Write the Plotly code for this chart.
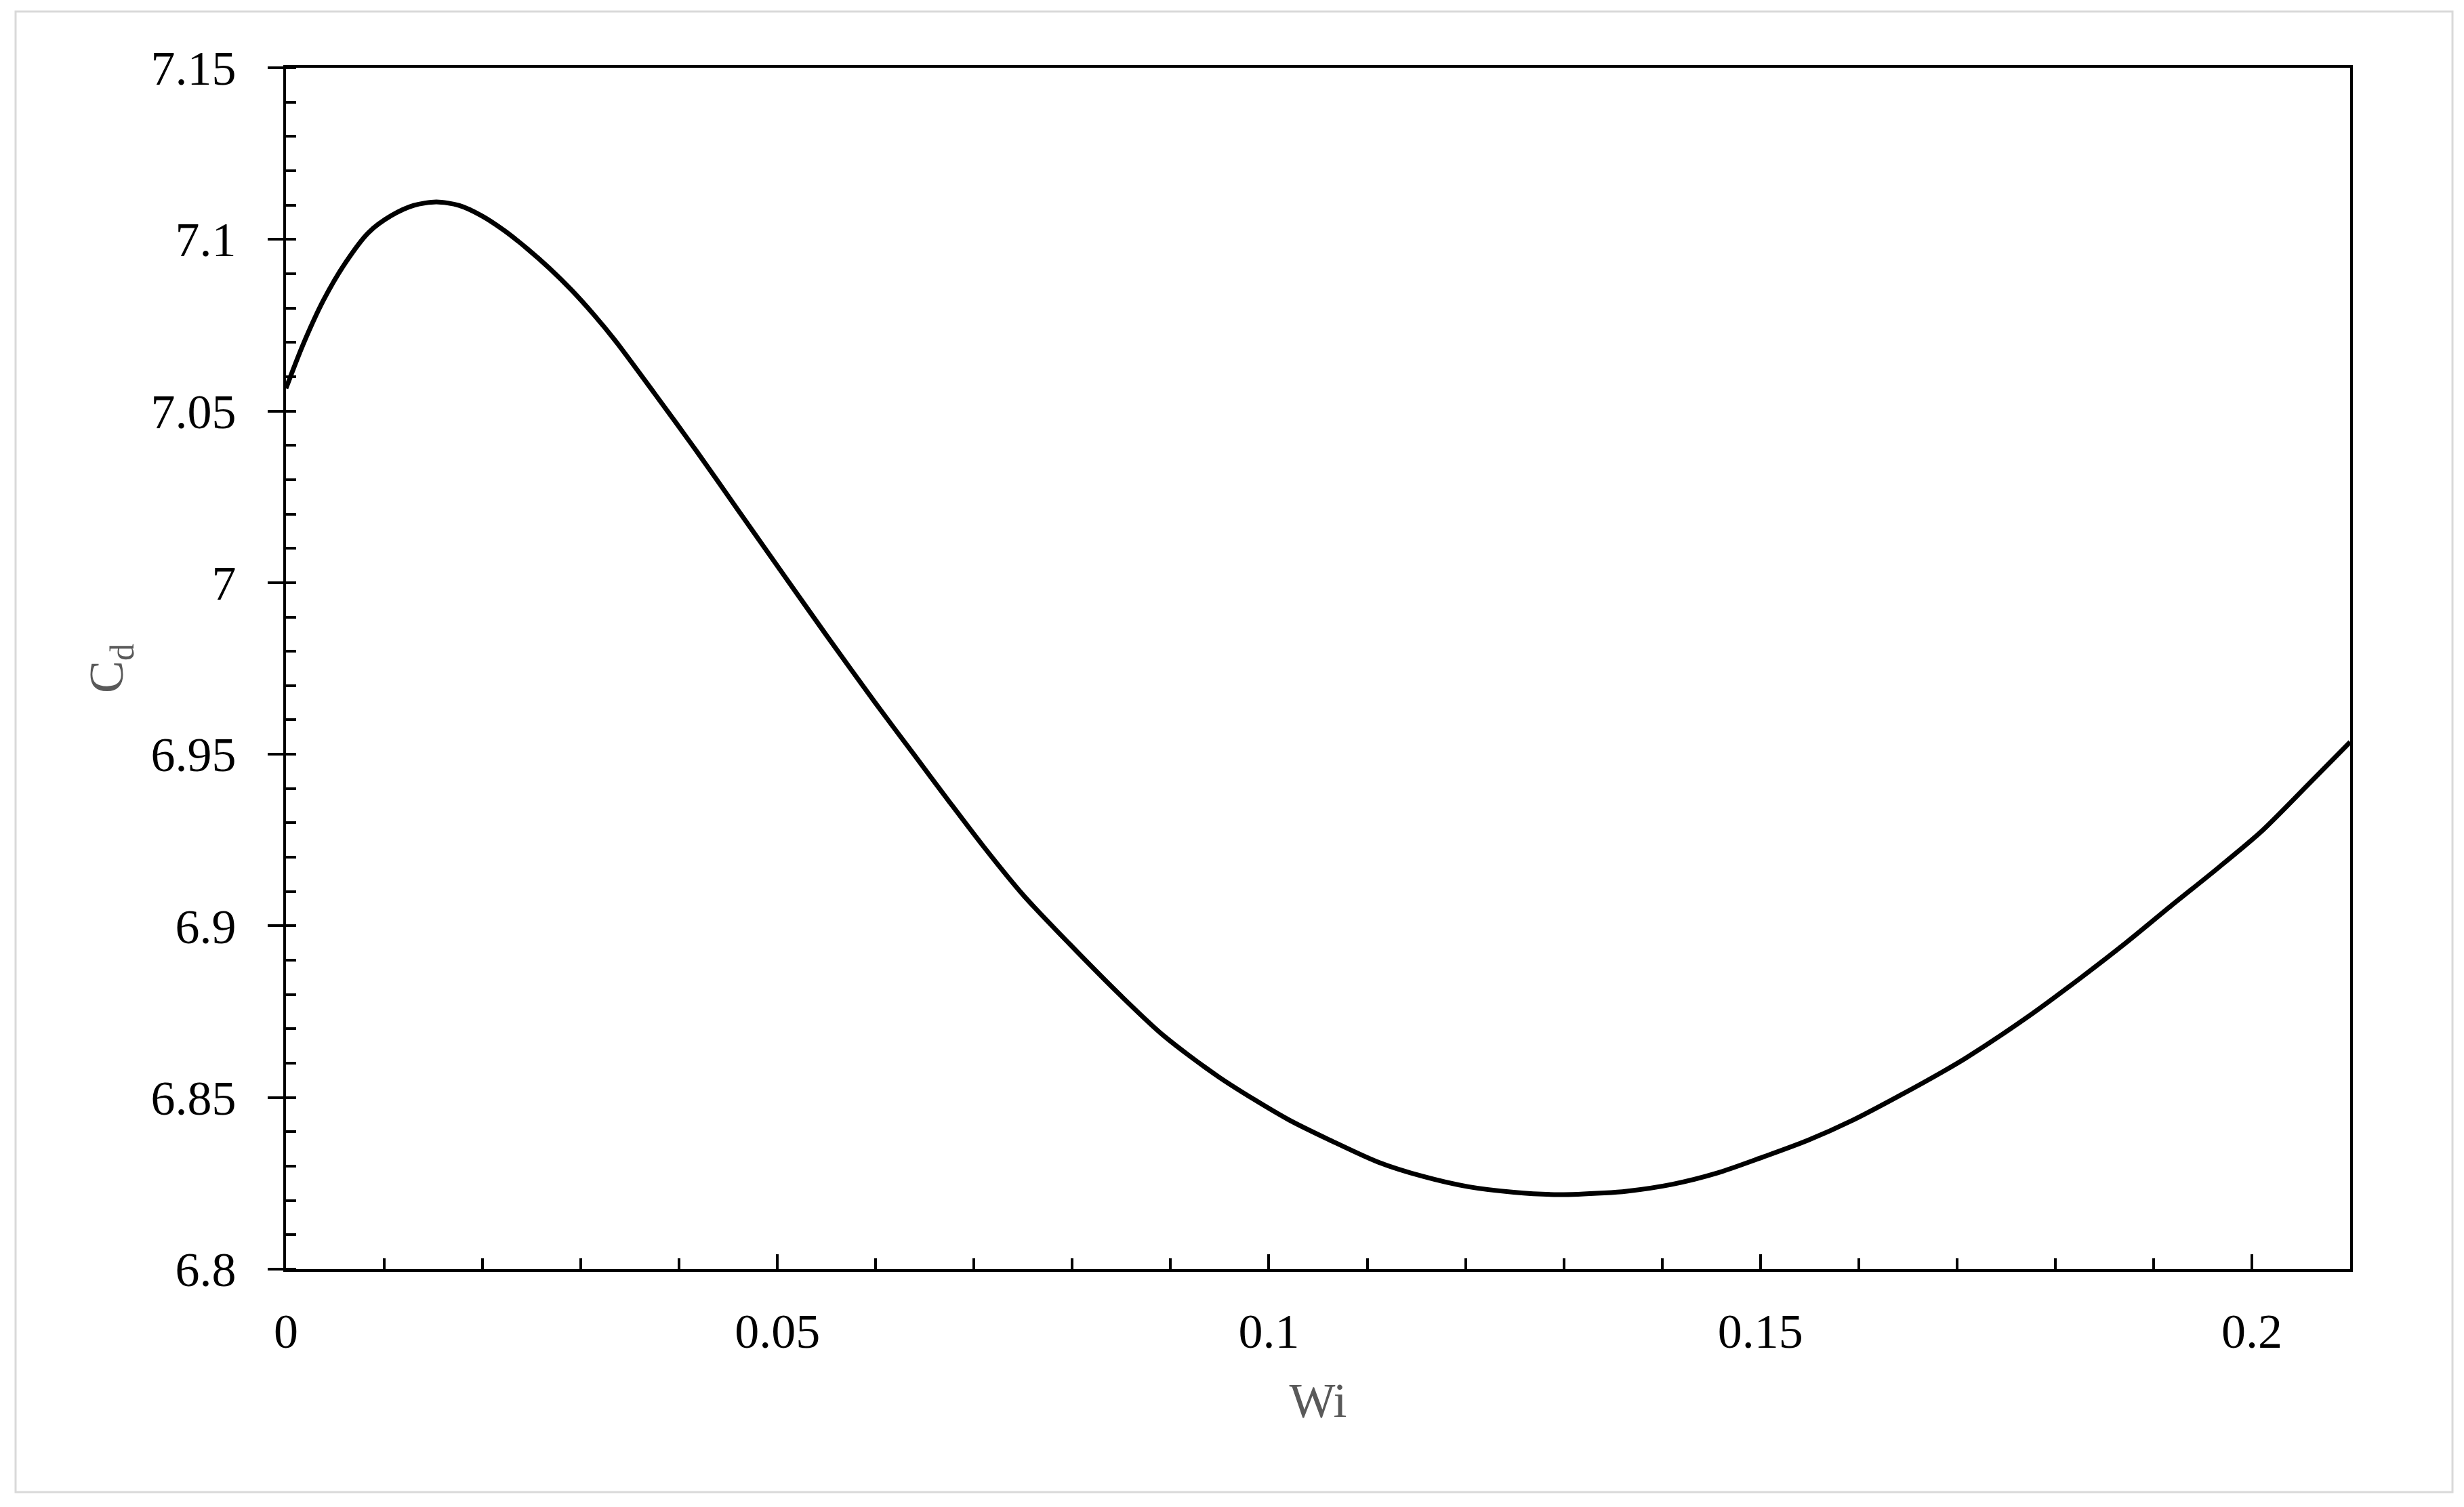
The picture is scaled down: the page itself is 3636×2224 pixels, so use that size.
import plotly.graph_objects as go

# ---- data ----
wi = [0.0000, 0.0017, 0.0038, 0.0061, 0.0084, 0.0107, 0.0130, 0.0153, 0.0176,
      0.0199, 0.0222, 0.0245, 0.0268, 0.0291, 0.0314, 0.0335, 0.0375, 0.0418,
      0.0460, 0.0507, 0.0550, 0.0600, 0.0640, 0.0674, 0.0710, 0.0750, 0.0797,
      0.0850, 0.0893, 0.0950, 0.1019, 0.1065, 0.1111, 0.1157, 0.1203, 0.1249,
      0.1295, 0.1341, 0.1364, 0.1410, 0.1456, 0.1502, 0.1548, 0.1594, 0.1640,
      0.1686, 0.1709, 0.1773, 0.1826, 0.1872, 0.1918, 0.1964, 0.2010, 0.2056,
      0.2100]
cd = [7.0566, 7.0691, 7.0822, 7.0934, 7.1020, 7.1069, 7.1099, 7.1109, 7.1099,
      7.1069, 7.1026, 7.0974, 7.0916, 7.0851, 7.0778, 7.0705, 7.0551, 7.0382,
      7.0211, 7.0020, 6.9846, 6.9648, 6.9495, 6.9365, 6.9230, 6.9090, 6.8948,
      6.8795, 6.8680, 6.8558, 6.8437, 6.8372, 6.8312, 6.8270, 6.8240, 6.8224,
      6.8217, 6.8222, 6.8227, 6.8247, 6.8280, 6.8326, 6.8375, 6.8434, 6.8503,
      6.8576, 6.8615, 6.8737, 6.8849, 6.8951, 6.9059, 6.9165, 6.9276, 6.9408,
      6.9536]

x_tick_vals = [0, 0.05, 0.1, 0.15, 0.2]
x_tick_text = ["0", "0.05", "0.1", "0.15", "0.2"]
y_tick_vals = [6.8, 6.85, 6.9, 6.95, 7.0, 7.05, 7.1, 7.15]
y_tick_text = ["6.8", "6.85", "6.9", "6.95", "7", "7.05", "7.1", "7.15"]

x_title = "Wi"
y_title = "C<sub>d</sub>"

# ---- layout geometry (pixels) ----
W, H = 3636, 2224
ML, MR, MT, MB = 422, 168, 100, 351
FONT = "Times New Roman, Liberation Serif, serif"
TITLE_COLOR = "#595959"

fig = go.Figure()
fig.add_trace(go.Scatter(
    x=wi, y=cd, mode="lines",
    line=dict(color="black", width=7, shape="spline", smoothing=0.8),
    showlegend=False, hoverinfo="skip"))
# helper trace so the overlay axis (inside half of the major y ticks) is drawn
fig.add_trace(go.Scatter(x=wi[:1], y=cd[:1], mode="none", yaxis="y2",
                         showlegend=False, hoverinfo="skip"))

pw = W - ML - MR
ph = H - MT - MB
# light grey outer frame, in paper coordinates
bx0, bx1, by0, by1 = 23, 3619, 17, 2202
fig.add_shape(type="rect", xref="paper", yref="paper",
              x0=(bx0 - ML) / pw, x1=(bx1 - ML) / pw,
              y0=(H - MB - by1) / ph, y1=(H - MB - by0) / ph,
              line=dict(color="#d9d9d9", width=3), layer="below")

fig.update_layout(
    width=W, height=H,
    margin=dict(l=ML, r=MR, t=MT, b=MB, pad=0),
    paper_bgcolor="white", plot_bgcolor="white",
    font=dict(family=FONT, size=72, color="black"),
    xaxis=dict(
        range=[0, 0.21], showline=True, linecolor="black", linewidth=4,
        mirror=True, showgrid=False, zeroline=False,
        ticks="inside", ticklen=22, tickwidth=4, tickcolor="black",
        tickmode="array", tickvals=x_tick_vals, ticktext=x_tick_text,
        ticklabelstandoff=26,
        tickfont=dict(family=FONT, size=72, color="black"),
        minor=dict(ticks="inside", ticklen=16, tickwidth=4, tickcolor="black",
                   dtick=0.01, tick0=0, showgrid=False),
        title=dict(text=x_title, standoff=37,
                   font=dict(family=FONT, size=72, color=TITLE_COLOR)),
    ),
    yaxis=dict(
        range=[6.8, 7.15], showline=True, linecolor="black", linewidth=4,
        mirror=True, showgrid=False, zeroline=False,
        ticks="outside", ticklen=23, tickwidth=4, tickcolor="black",
        tickmode="array", tickvals=y_tick_vals, ticktext=y_tick_text,
        ticklabelstandoff=32,
        tickfont=dict(family=FONT, size=72, color="black"),
        minor=dict(ticks="inside", ticklen=15, tickwidth=4, tickcolor="black",
                   dtick=0.01, tick0=6.8, showgrid=False),
        title=dict(text=y_title, standoff=18,
                   font=dict(family=FONT, size=72, color=TITLE_COLOR)),
    ),
    yaxis2=dict(
        range=[6.8, 7.15], overlaying="y", side="left", anchor="x",
        showline=False, showgrid=False, zeroline=False,
        ticks="inside", ticklen=15, tickwidth=4, tickcolor="black",
        tickmode="array", tickvals=y_tick_vals, showticklabels=False,
    ),
)

fig.write_html("out.html", config={"displayModeBar": False},
               post_script="document.body.style.margin='0';")
